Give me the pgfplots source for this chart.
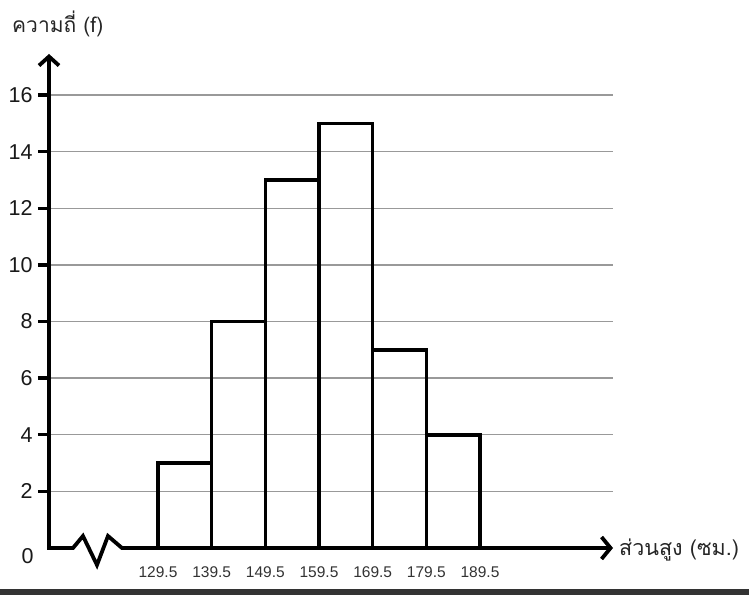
\documentclass[border=0pt]{standalone}
\usepackage{fontspec}
\setmainfont{Liberation Sans}
\newfontfamily\thaifont[Script=Thai]{Loma}
\usepackage{pgfplots}
\pgfplotsset{compat=1.18}
\usetikzlibrary{arrows.meta}
\definecolor{gridgray}{HTML}{999999}
\definecolor{stripgray}{HTML}{333333}
\definecolor{ticktext}{HTML}{333333}
\begin{document}
\begin{tikzpicture}
\path[use as bounding box] (0pt,0pt) rectangle (749pt,595pt);
\fill[stripgray] (0pt,0pt) rectangle (749pt,6pt);
\begin{axis}[
    at={(49pt,47pt)}, anchor=south west,
    scale only axis, width=564pt, height=494pt,
    xmin=109.19, xmax=214.28,
    ymin=0, ymax=17.45,
    clip=false,
    axis y line=left, axis x line=bottom,
    x axis line style={draw=none},
    y axis line style={line width=3.8pt, -{Straight Barb[length=9pt,width=20pt]}},
    xtick={129.5,139.5,149.5,159.5,169.5,179.5,189.5},
    xticklabels={129.5,139.5,149.5,159.5,169.5,179.5,189.5},
    x tick style={draw=none},
    x tick label style={font=\fontsize{15.5}{18}\selectfont, text=ticktext, yshift=-4pt},
    ytick={2,4,...,16},
    tick align=outside,
    major tick length=11pt,
    y tick style={line width=3.3pt, black},
    y tick label style={font=\fontsize{21.5}{24}\selectfont, text=black!90, xshift=-2pt},
    extra y ticks={0},
    extra y tick style={major tick length=0pt, ymajorgrids=false,
        y tick label style={yshift=-8pt, xshift=-10pt}},
    ymajorgrids,
    major grid style={gridgray, line width=1.4pt},
    /pgf/number format/assume math mode=true,
]
\addplot[ybar interval, draw=black, line width=3.6pt, fill=none] coordinates {
    (129.5,3) (139.5,8) (149.5,13) (159.5,15) (169.5,7) (179.5,4) (189.5,4)
};
% x axis with break mark
\draw[line width=3.8pt, line join=miter, -{Straight Barb[length=9pt,width=22pt]}]
    (axis cs:108.84,0) -- (axis cs:113.66,0) -- (axis cs:115.52,0.424)
    -- (axis cs:118.13,-0.60) -- (axis cs:120.18,0.424) -- (axis cs:122.79,0)
    -- (axis cs:214.28,0);
\end{axis}
\node[anchor=base west, inner sep=0pt, font=\thaifont\fontsize{21}{24}\selectfont, text=black!85]
    at (12pt,562pt) {ความถี่ (f)};
\node[anchor=base west, inner sep=0pt, font=\thaifont\fontsize{21.5}{24}\selectfont, text=black!85]
    at (619pt,40pt) {ส่วนสูง (ซม.)};
\end{tikzpicture}
\end{document}
